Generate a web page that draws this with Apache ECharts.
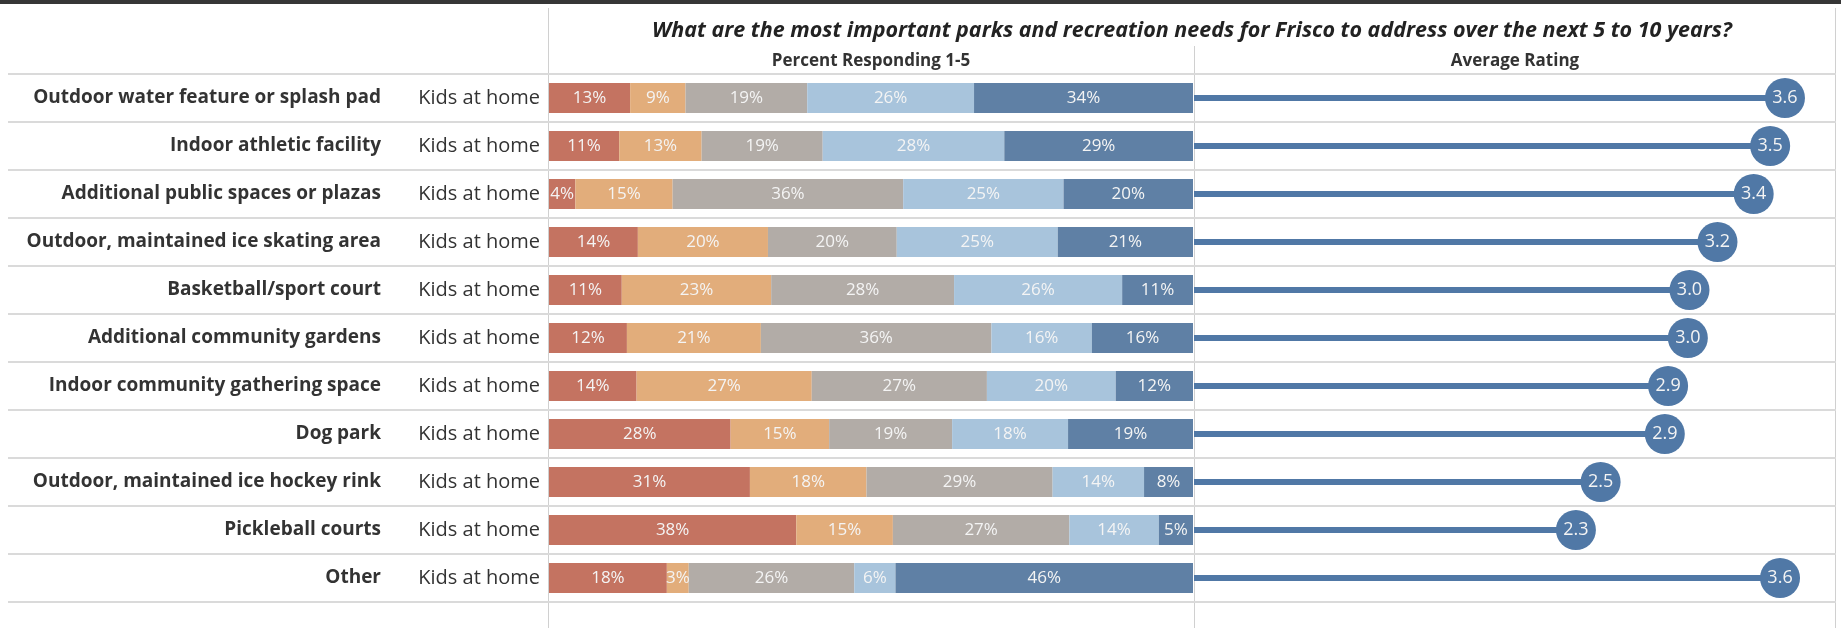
<!DOCTYPE html>
<html>
<head>
<meta charset="utf-8">
<title>Parks and recreation needs</title>
<script src="https://cdn.jsdelivr.net/npm/echarts@6/dist/echarts.min.js"></script>
<style>
    html, body { margin: 0; padding: 0; background: #fff; }
    #chart { width: 1841px; height: 628px; }
</style>
</head>
<body>
<div id="chart"></div>
<script>
// survey data
const categories = [
    'Outdoor water feature or splash pad',
    'Indoor athletic facility',
    'Additional public spaces or plazas',
    'Outdoor, maintained ice skating area',
    'Basketball/sport court',
    'Additional community gardens',
    'Indoor community gathering space',
    'Dog park',
    'Outdoor, maintained ice hockey rink',
    'Pickleball courts',
    'Other'
]
const segmentLabel = 'Kids at home'
const levels = ['1', '2', '3', '4', '5']

// percent responding per rating level (1 = least important .. 5 = most)
const pct1 = [12.6, 10.9, 4.1, 13.8, 11.3, 12.1, 13.6, 28.2, 31.2, 38.4, 18.3]
const pct2 = [8.6, 12.8, 15.1, 20.2, 23.2, 20.8, 27.2, 15.3, 18.1, 15.0, 3.4]
const pct3 = [18.9, 18.8, 35.8, 20.0, 28.4, 35.8, 27.2, 19.1, 28.9, 27.4, 25.7]
const pct4 = [25.9, 28.2, 24.9, 25.0, 26.1, 15.6, 20.0, 18.0, 14.2, 13.9, 6.4]
const pct5 = [34.0, 29.3, 20.1, 21.0, 11.0, 15.7, 12.0, 19.4, 7.6, 5.3, 46.2]

// average rating per need
const ratings = [3.59, 3.50, 3.40, 3.18, 3.01, 3.00, 2.88, 2.86, 2.47, 2.32, 3.56]

const titleText = 'What are the most important parks and recreation needs for Frisco to address over the next 5 to 10 years?'
const leftHeader = 'Percent Responding 1-5'
const rightHeader = 'Average Rating'

const levelColors = ['#c47361', '#e2ad7b', '#b2aca7', '#a8c4dc', '#5f80a5']
const lollipopColor = '#5078a6'
const gridLine = '#dadada'
const font = '"Open Sans", "DejaVu Sans", sans-serif'

const chart = echarts.init(document.getElementById('chart'))

const pctSeries = [pct1, pct2, pct3, pct4, pct5].map((values, i) => ({
    name: levels[i],
    type: 'bar',
    stack: 'pct',
    xAxisIndex: 0,
    yAxisIndex: 0,
    barWidth: 30,
    data: values,
    itemStyle: { color: levelColors[i] },
    label: {
        show: true,
        position: 'inside',
        color: '#f4f4f4',
        fontFamily: font,
        fontSize: 17,
        formatter: p => Math.round(p.value) + '%'
    },
    silent: true
}))

const option = {
    animation: false,
    grid: [
        // stacked percentage bars
        { left: 549, top: 74, width: 644, height: 528 },
        // average rating lollipops
        { left: 1194, top: 74, width: 642, height: 528 },
        // row separators across the whole table
        { left: 8, top: 74, width: 1828, height: 528 }
    ],
    xAxis: [
        { gridIndex: 0, type: 'value', min: 0, max: 100, show: false },
        { gridIndex: 1, type: 'value', min: 0, max: 3.9, show: false },
        { gridIndex: 2, type: 'value', min: 0, max: 1, show: false }
    ],
    yAxis: [
        {
            gridIndex: 0,
            type: 'category',
            inverse: true,
            data: categories,
            axisLine: { show: false },
            axisTick: { show: false },
            axisLabel: {
                margin: 9,
                color: '#333',
                fontFamily: font,
                fontSize: 20,
                formatter: () => segmentLabel
            }
        },
        {
            gridIndex: 0,
            type: 'category',
            position: 'left',
            inverse: true,
            data: categories,
            axisLine: { show: false },
            axisTick: { show: false },
            axisLabel: {
                margin: 168,
                color: '#333',
                fontFamily: font,
                fontWeight: 'bold',
                fontSize: 19
            }
        },
        {
            gridIndex: 1,
            type: 'category',
            inverse: true,
            data: categories,
            show: false
        },
        {
            gridIndex: 2,
            type: 'category',
            inverse: true,
            data: categories,
            axisLine: { show: false },
            axisTick: { show: false },
            axisLabel: { show: false },
            splitLine: { show: true, interval: 0, lineStyle: { color: gridLine, width: 2 } }
        }
    ],
    series: [
        ...pctSeries,
        {
            name: 'stem',
            type: 'bar',
            xAxisIndex: 1,
            yAxisIndex: 2,
            barWidth: 6,
            data: ratings,
            itemStyle: { color: lollipopColor },
            silent: true
        },
        {
            name: 'Average Rating',
            type: 'scatter',
            xAxisIndex: 1,
            yAxisIndex: 2,
            symbolSize: 40,
            data: ratings.map((v, i) => [v, i]),
            itemStyle: { color: lollipopColor, opacity: 1 },
            label: {
                show: true,
                position: 'inside',
                color: '#f4f4f4',
                fontFamily: font,
                fontSize: 18,
                formatter: p => p.value[0].toFixed(1)
            },
            z: 5,
            silent: true
        }
    ],
    graphic: [
        { type: 'rect', shape: { x: 0, y: 0, width: 1841, height: 4 }, style: { fill: '#363636' } },
        { type: 'line', shape: { x1: 548.5, y1: 8, x2: 548.5, y2: 628 }, style: { stroke: '#d0d0d0', lineWidth: 1 } },
        { type: 'line', shape: { x1: 1194.5, y1: 46, x2: 1194.5, y2: 628 }, style: { stroke: '#d0d0d0', lineWidth: 1 } },
        { type: 'line', shape: { x1: 1835.5, y1: 8, x2: 1835.5, y2: 628 }, style: { stroke: '#d0d0d0', lineWidth: 1 } },
        {
            type: 'text',
            x: 1192,
            y: 31,
            style: {
                text: titleText,
                fill: '#222',
                font: 'italic bold 21.5px ' + font,
                textAlign: 'center',
                textVerticalAlign: 'middle'
            }
        },
        {
            type: 'text',
            x: 871,
            y: 61,
            style: {
                text: leftHeader,
                fill: '#333',
                font: 'bold 17px ' + font,
                textAlign: 'center',
                textVerticalAlign: 'middle'
            }
        },
        {
            type: 'text',
            x: 1515,
            y: 61,
            style: {
                text: rightHeader,
                fill: '#333',
                font: 'bold 17px ' + font,
                textAlign: 'center',
                textVerticalAlign: 'middle'
            }
        }
    ]
}

chart.setOption(option)
</script>
</body>
</html>
